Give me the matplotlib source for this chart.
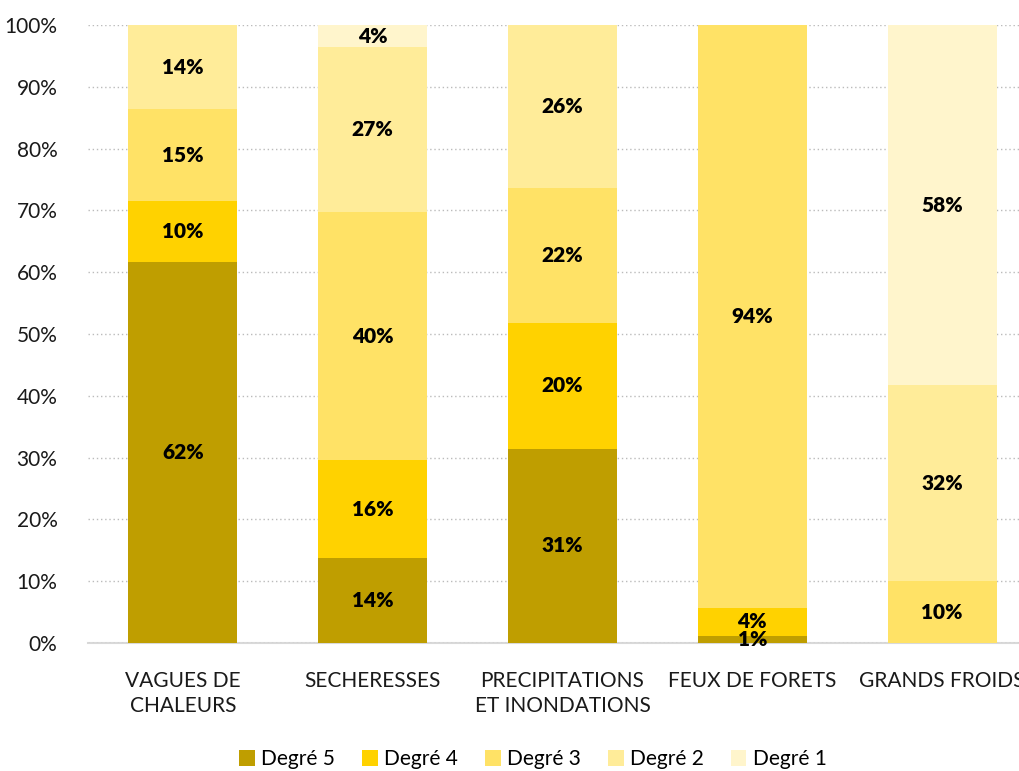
import matplotlib.pyplot as plt
import numpy as np

plt.rcParams['font.family'] = ['Lato', 'DejaVu Sans']

categories = ["VAGUES DE\nCHALEURS", "SECHERESSES", "PRECIPITATIONS\nET INONDATIONS",
              "FEUX DE FORETS", "GRANDS FROIDS"]
series_names = ["Degré 5", "Degré 4", "Degré 3", "Degré 2", "Degré 1"]
degre5 = [61.7, 13.7, 31.4, 1.2, 0.0]
degre4 = [9.8, 15.9, 20.4, 4.4, 0.0]
degre3 = [14.9, 40.1, 21.8, 94.4, 10.0]
degre2 = [13.6, 26.7, 26.4, 0.0, 31.7]
degre1 = [0.0, 3.6, 0.0, 0.0, 58.3]
couleurs = ["#BF9E00", "#FFD200", "#FFE266", "#FFEC99", "#FFF5CC"]

series = [degre5, degre4, degre3, degre2, degre1]

fig = plt.figure(figsize=(10.19, 7.71), dpi=100)
ax = fig.add_axes([88 / 1019, 128 / 771, (1037 - 88) / 1019, (643 - 25) / 771])

x = np.arange(len(categories))
bas = np.zeros(len(categories))
for nom, valeurs, couleur in zip(series_names, series, couleurs):
    valeurs = np.array(valeurs)
    ax.bar(x, valeurs, bottom=bas, width=0.574, color=couleur, label=nom, zorder=2)
    for xi, b, v in zip(x, bas, valeurs):
        if v > 0:
            ax.text(xi, b + v / 2, f"{v:.0f}%", ha="center", va="center",
                    fontsize=15, fontweight="heavy", color="black", zorder=3)
    bas += valeurs

ax.set_xlim(-0.5, 4.5)
ax.set_ylim(0, 100)
ax.set_yticks(range(0, 101, 10))
ax.set_yticklabels([f"{v}%" for v in range(0, 101, 10)], fontsize=15)
ax.set_xticks(x)
ax.set_xticklabels(categories, fontsize=15, linespacing=1.35)
ax.tick_params(axis="both", length=0, colors="#1a1a1a")
ax.tick_params(axis="y", pad=22)
ax.tick_params(axis="x", pad=20)
ax.yaxis.grid(True, linestyle=(0, (1, 2)), color="#BBBBBB", linewidth=1, zorder=0)
for s in ["top", "right", "left"]:
    ax.spines[s].set_visible(False)
ax.spines["bottom"].set_color("#D9D9D9")
ax.spines["bottom"].set_linewidth(1.5)
ax.spines["bottom"].set_zorder(1)

fig.legend(loc="lower center", bbox_to_anchor=(533 / 1019, -0.022), ncol=5, frameon=False,
           fontsize=15, handlelength=0.75, handleheight=0.75, handletextpad=0.3,
           columnspacing=1.3)

fig.savefig("out.png", dpi=100)
